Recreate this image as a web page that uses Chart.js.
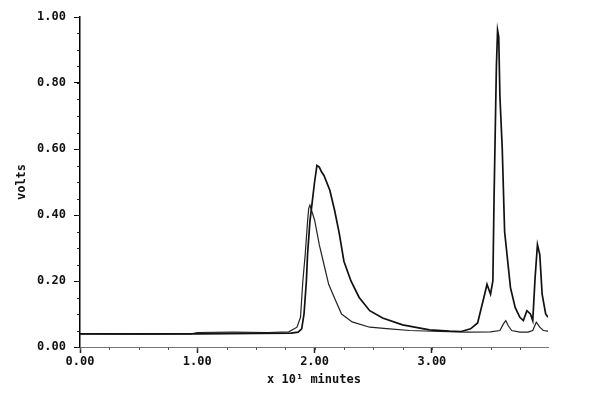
<!DOCTYPE html>
<html>
<head>
<meta charset="utf-8">
<script src="https://cdn.jsdelivr.net/npm/chart.js@4"></script>
<style>
    html, body { margin: 0; padding: 0; background: #fff; }
    #wrap { width: 600px; height: 396px; }
</style>
</head>
<body>
<div id="wrap"><canvas id="chromChart" width="600" height="396"></canvas></div>
<script>
// time in units of 10 minutes, detector response in volts
const timeA = [0.00, 0.50, 1.00, 1.50, 1.80, 1.86, 1.89, 1.91, 1.93, 1.94, 1.96, 1.98, 2.00, 2.02,
    2.04, 2.06, 2.08, 2.13, 2.17, 2.21, 2.25, 2.31, 2.38, 2.47, 2.58, 2.75, 2.98, 3.15, 3.25,
    3.33, 3.39, 3.45, 3.47, 3.50, 3.52, 3.53, 3.55, 3.56, 3.57, 3.58, 3.60, 3.62, 3.67, 3.71,
    3.75, 3.78, 3.81, 3.84, 3.86, 3.88, 3.90, 3.92, 3.94, 3.97, 3.99];
const voltsA = [0.040, 0.040, 0.040, 0.041, 0.042, 0.045, 0.055, 0.10, 0.20, 0.28, 0.38, 0.44, 0.50, 0.55,
    0.545, 0.53, 0.52, 0.475, 0.415, 0.345, 0.26, 0.20, 0.15, 0.11, 0.088, 0.067, 0.052, 0.048, 0.047,
    0.055, 0.073, 0.16, 0.19, 0.16, 0.20, 0.45, 0.85, 0.96, 0.94, 0.76, 0.60, 0.35, 0.18, 0.12,
    0.09, 0.08, 0.11, 0.10, 0.08, 0.21, 0.31, 0.28, 0.16, 0.10, 0.09];

const timeB = [0.00, 0.50, 0.95, 1.00, 1.30, 1.60, 1.78, 1.85, 1.88, 1.90, 1.92, 1.94, 1.95, 1.96,
    2.00, 2.04, 2.08, 2.12, 2.18, 2.23, 2.32, 2.47, 2.64, 2.81, 3.07, 3.30, 3.50, 3.58, 3.61,
    3.63, 3.65, 3.68, 3.75, 3.82, 3.86, 3.89, 3.92, 3.95, 3.99];
const voltsB = [0.040, 0.039, 0.040, 0.044, 0.045, 0.044, 0.046, 0.06, 0.09, 0.20, 0.28, 0.38, 0.42, 0.43,
    0.385, 0.31, 0.25, 0.19, 0.14, 0.10, 0.076, 0.06, 0.055, 0.05, 0.047, 0.045, 0.046, 0.05, 0.07,
    0.08, 0.065, 0.05, 0.045, 0.045, 0.05, 0.075, 0.06, 0.05, 0.048];

const xTicks = [0, 1, 2, 3];
const yTicks = [0, 0.2, 0.4, 0.6, 0.8, 1.0];
const xMinorStep = 0.25;
const yMinorStep = 0.05;

const toPoints = (xs, ys) => xs.map((x, i) => ({ x: x, y: ys[i] }));

// small unlabeled ticks between the labeled ones
const minorTicks = {
    id: 'minorTicks',
    afterDraw(chart) {
        const { ctx, scales: { x, y } } = chart;
        ctx.save();
        ctx.lineWidth = 1;
        ctx.strokeStyle = '#555';
        ctx.beginPath();
        for (let v = 0; v <= x.max + 1e-9; v += xMinorStep) {
            const px = Math.round(x.getPixelForValue(v)) + 0.5;
            ctx.moveTo(px, y.bottom);
            ctx.lineTo(px, y.bottom + 3);
        }
        ctx.stroke();
        ctx.strokeStyle = '#222';
        ctx.beginPath();
        for (let v = 0; v <= 1.0001; v += yMinorStep) {
            const py = Math.round(y.getPixelForValue(v)) + 0.5;
            ctx.moveTo(x.left, py);
            ctx.lineTo(x.left - 3, py);
        }
        ctx.stroke();
        ctx.restore();
    }
};

const tickFont = { family: 'DejaVu Sans Mono', size: 12, weight: 'bold' };

new Chart(document.getElementById('chromChart').getContext('2d'), {
    type: 'line',
    data: {
        datasets: [{
            label: 'trace 1',
            data: toPoints(timeA, voltsA),
            borderColor: '#111',
            borderWidth: 1.7,
            pointRadius: 0,
            tension: 0
        }, {
            label: 'trace 2',
            data: toPoints(timeB, voltsB),
            borderColor: '#222',
            borderWidth: 1.2,
            pointRadius: 0,
            tension: 0
        }]
    },
    options: {
        responsive: false,
        animation: false,
        layout: { padding: { top: 17, right: 52, left: 0, bottom: 0 } },
        plugins: {
            legend: { display: false },
            tooltip: { enabled: false }
        },
        scales: {
            x: {
                type: 'linear',
                min: 0,
                max: 3.99,
                afterFit: (scale) => { scale.height = 49; },
                afterBuildTicks: (scale) => { scale.ticks = xTicks.map(v => ({ value: v })); },
                border: { display: true, color: '#777', width: 1, dash: [4, 2] },
                grid: { drawOnChartArea: false, tickLength: 6, color: '#222', tickWidth: 1.5 },
                ticks: {
                    color: '#111',
                    font: tickFont,
                    padding: 2,
                    maxRotation: 0,
                    callback: (v) => Number(v).toFixed(2)
                },
                title: {
                    display: true,
                    text: 'x 10\u00b9 minutes',
                    color: '#111',
                    font: { family: 'DejaVu Sans Mono', size: 12, weight: 'bold' },
                    padding: { top: 0, bottom: 9 }
                }
            },
            y: {
                min: 0,
                max: 1.0,
                afterFit: (scale) => { scale.width = 80; },
                afterBuildTicks: (scale) => { scale.ticks = yTicks.map(v => ({ value: v })); },
                border: { display: true, color: '#000', width: 1.5 },
                grid: { drawOnChartArea: false, tickLength: 6, color: '#000', tickWidth: 1 },
                ticks: {
                    color: '#111',
                    font: tickFont,
                    padding: 8,
                    callback: (v) => Number(v).toFixed(2)
                },
                title: {
                    display: true,
                    text: 'volts',
                    color: '#111',
                    font: { family: 'DejaVu Sans Mono', size: 12, weight: 'bold' },
                    padding: { top: 15, bottom: 0 }
                }
            }
        }
    },
    plugins: [minorTicks]
});
</script>
</body>
</html>
